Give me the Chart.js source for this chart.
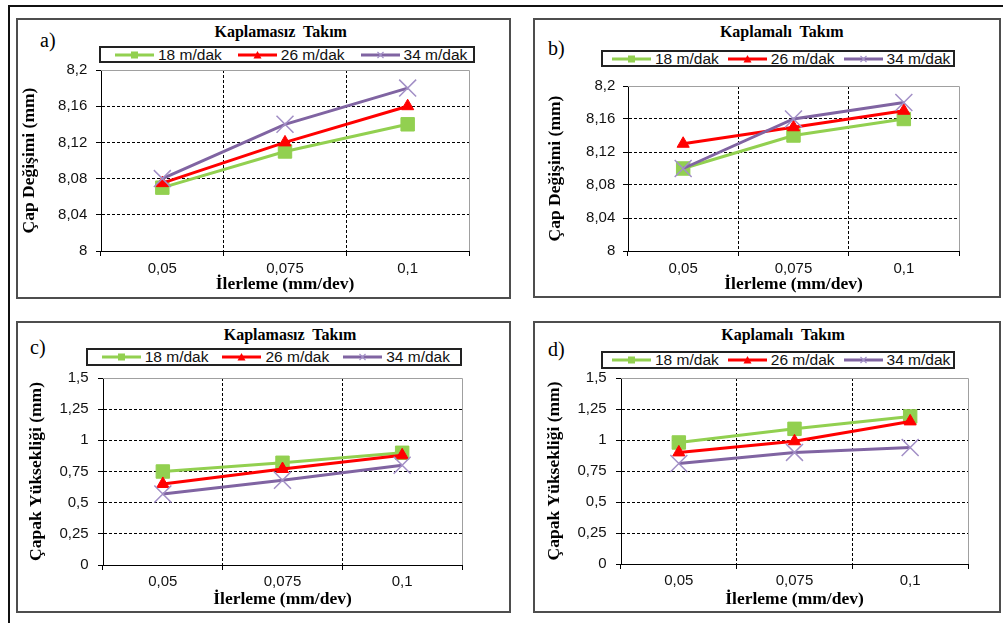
<!DOCTYPE html>
<html>
<head>
<meta charset="utf-8">
<script src="https://cdn.jsdelivr.net/npm/chart.js@4.4.0/dist/chart.umd.min.js"></script>
<style>
  html, body { margin: 0; padding: 0; background: #fff; }
  body { width: 1003px; height: 623px; position: relative; overflow: hidden; font-family: "Liberation Sans", Arial, sans-serif; }
  .frame { position: absolute; left: 8px; top: 5px; width: 1010px; height: 640px; border-top: 2px solid #111; border-left: 2px solid #111; }
  .panel { position: absolute; box-sizing: border-box; border: 2px solid #4e4e4e; }
  .chart { position: absolute; }
  .title { position: absolute; transform: translate(-50%, -50%); font: bold 16px "Liberation Serif", serif; white-space: pre; line-height: 1; color: #000; }
  .tag { position: absolute; transform: translate(0, -50%); font: 20px "Liberation Serif", serif; line-height: 1; color: #000; }
  .legend { position: absolute; box-sizing: border-box; border: 2px solid #222; display: flex; align-items: center; font-size: 15.5px; color: #111; white-space: nowrap; }
  .item { display: flex; align-items: center; }
  .item svg { margin-right: 4px; display: block; }
</style>
</head>
<body>
<div class="frame"></div>
<script>
// feed rate categories and cutting speed series
const feedRates = ['0,05', '0,075', '0,1'];
const speedNames = ['18 m/dak', '26 m/dak', '34 m/dak'];

// a) diameter change, uncoated tool
const diamUncoated18 = [8.07, 8.11, 8.14];
const diamUncoated26 = [8.075, 8.12, 8.16];
const diamUncoated34 = [8.08, 8.14, 8.18];
// b) diameter change, coated tool
const diamCoated18 = [8.10, 8.14, 8.16];
const diamCoated26 = [8.13, 8.15, 8.17];
const diamCoated34 = [8.10, 8.16, 8.18];
// c) burr height, uncoated tool
const burrUncoated18 = [0.75, 0.82, 0.90];
const burrUncoated26 = [0.65, 0.77, 0.88];
const burrUncoated34 = [0.57, 0.68, 0.80];
// d) burr height, coated tool
const burrCoated18 = [0.98, 1.09, 1.19];
const burrCoated26 = [0.90, 0.99, 1.15];
const burrCoated34 = [0.81, 0.90, 0.94];

const diamTicks = [8, 8.04, 8.08, 8.12, 8.16, 8.2];
const diamTickLabels = ['8', '8,04', '8,08', '8,12', '8,16', '8,2'];
const burrTicks = [0, 0.25, 0.5, 0.75, 1, 1.25, 1.5];
const burrTickLabels = ['0', '0,25', '0,5', '0,75', '1', '1,25', '1,5'];

const seriesStyle = [
  { color: '#92D050', point: 'rect', radius: 9.5, pointColor: '#92D050', pointWidth: 1 },
  { color: '#FF0000', point: 'triangle', radius: 7, pointColor: '#FF0000', pointWidth: 1 },
  { color: '#8064A2', point: 'crossRot', radius: 12, pointColor: '#A28FC6', pointWidth: 1.5 }
];

const legendMarks = [
  '<rect x="16" y="2.5" width="7" height="7" fill="#92D050"/>',
  '<polygon points="19.5,2 23.5,9.5 15.5,9.5" fill="#FF0000"/>',
  '<path d="M16.5 3 L22.5 9 M22.5 3 L16.5 9" stroke="#A28FC6" stroke-width="1.2"/>'
];

// layout of the four panels (page pixels)
const panels = [
  { tag: 'a)', title: 'Kaplamasız  Takım', yTitle: 'Çap Değişimi (mm)',
    series: [diamUncoated18, diamUncoated26, diamUncoated34], ticks: diamTicks, tickLabels: diamTickLabels,
    box: [16, 18, 495, 281], plot: [85, 453, 52, 233], yTitlePad: 2.7, yTickPad: 8.7, xTickPad: 4, xTitlePad: 4.5,
    titlePos: [280.7, 32], tagPos: [40, 40], legend: [99, 46, 376, 17, 16, 16] },
  { tag: 'b)', title: 'Kaplamalı  Takım', yTitle: 'Çap Değişimi (mm)',
    series: [diamCoated18, diamCoated26, diamCoated34], ticks: diamTicks, tickLabels: diamTickLabels,
    box: [533, 18, 468, 280], plot: [95, 426, 68, 233], yTitlePad: 12.4, yTickPad: 7.7, xTickPad: 4, xTitlePad: 3.2,
    titlePos: [781.7, 31.5], tagPos: [548, 47.5], legend: [601, 50, 354, 17, 11, 9] },
  { tag: 'c)', title: 'Kaplamasız  Takım', yTitle: 'Çapak Yüksekliği (mm)',
    series: [burrUncoated18, burrUncoated26, burrUncoated34], ticks: burrTicks, tickLabels: burrTickLabels,
    box: [16, 321, 495, 292], plot: [87, 446, 57, 244], yTitlePad: 9.6, yTickPad: 9.4, xTickPad: 3, xTitlePad: 3.2,
    titlePos: [290, 334.5], tagPos: [30, 346.5], legend: [86, 348, 376, 18, 15.7, 14] },
  { tag: 'd)', title: 'Kaplamalı  Takım', yTitle: 'Çapak Yüksekliği (mm)',
    series: [burrCoated18, burrCoated26, burrCoated34], ticks: burrTicks, tickLabels: burrTickLabels,
    box: [533, 321, 468, 292], plot: [88, 435, 57, 243], yTitlePad: 10.9, yTickPad: 9.3, xTickPad: 3, xTitlePad: 3.2,
    titlePos: [783, 334.5], tagPos: [548, 349], legend: [601, 351, 354, 17.6, 11, 9] }
];

// gray top and right edge of the plot area
const plotFrame = {
  id: 'plotFrame',
  beforeDatasetsDraw(chart) {
    const { ctx, chartArea: a } = chart;
    const top = Math.round(a.top) + 0.5, right = Math.round(a.right) + 0.5;
    ctx.save();
    ctx.strokeStyle = '#a0a0a0';
    ctx.lineWidth = 1;
    ctx.beginPath();
    ctx.moveTo(a.left, top);
    ctx.lineTo(right, top);
    ctx.lineTo(right, a.bottom);
    ctx.stroke();
    ctx.restore();
  }
};

function addDiv(cls, css, html) {
  const d = document.createElement('div');
  d.className = cls;
  Object.assign(d.style, css);
  if (html) d.innerHTML = html;
  document.body.appendChild(d);
  return d;
}

panels.forEach(p => {
  const [bx, by, bw, bh] = p.box;
  const [pl, pr, pt, pb] = p.plot;

  addDiv('panel', { left: bx + 'px', top: by + 'px', width: bw + 'px', height: bh + 'px' });
  addDiv('title', { left: p.titlePos[0] + 'px', top: p.titlePos[1] + 'px' }).textContent = p.title;
  addDiv('tag', { left: p.tagPos[0] + 'px', top: p.tagPos[1] + 'px' }).textContent = p.tag;

  const [lx, ly, lw, lh, lpad, lgap] = p.legend;
  const leg = addDiv('legend', { left: lx + 'px', top: ly + 'px', width: lw + 'px', height: lh + 'px',
    paddingLeft: (lpad - 2) + 'px', gap: lgap + 'px' });
  speedNames.forEach((name, i) => {
    const it = document.createElement('div');
    it.className = 'item';
    it.innerHTML = '<svg width="39" height="12"><line x1="0" y1="6" x2="39" y2="6" stroke="' +
      seriesStyle[i].color + '" stroke-width="3"/>' + legendMarks[i] + '</svg><span>' + name + '</span>';
    leg.appendChild(it);
  });

  const wrap = addDiv('chart', { left: bx + 'px', top: by + 'px', width: bw + 'px', height: bh + 'px' });
  const canvas = document.createElement('canvas');
  wrap.appendChild(canvas);

  const lastY = p.ticks.length - 1;
  new Chart(canvas, {
    type: 'line',
    data: {
      labels: feedRates,
      datasets: p.series.map((vals, i) => ({
        label: speedNames[i],
        data: vals,
        borderColor: seriesStyle[i].color,
        backgroundColor: seriesStyle[i].color,
        borderWidth: 3,
        tension: 0,
        pointStyle: seriesStyle[i].point,
        pointRadius: seriesStyle[i].radius,
        pointBackgroundColor: seriesStyle[i].pointColor,
        pointBorderColor: seriesStyle[i].pointColor,
        pointBorderWidth: seriesStyle[i].pointWidth,
        order: 3 - i
      }))
    },
    options: {
      responsive: true,
      maintainAspectRatio: false,
      animation: false,
      layout: { padding: { top: pt, right: bw - pr, bottom: 0, left: 0 } },
      plugins: { legend: { display: false }, tooltip: { enabled: false } },
      scales: {
        x: {
          offset: true,
          grid: {
            offset: true,
            color: c => (c.index === 1 || c.index === 2) ? '#000' : 'rgba(0,0,0,0)',
            lineWidth: 1, tickLength: 5, tickColor: '#000', tickWidth: 1, tickBorderDash: []
          },
          border: { color: '#000', width: 1, dash: [3, 2] },
          ticks: { color: '#111', font: { family: 'Liberation Sans', size: 15 }, padding: p.xTickPad, maxRotation: 0 },
          title: { display: true, text: 'İlerleme (mm/dev)', color: '#000',
            font: { family: 'Liberation Serif', size: 17.5, weight: 'bold' }, padding: { top: 0, bottom: p.xTitlePad } },
          afterFit: s => { s.height = bh - pb; }
        },
        y: {
          min: p.ticks[0],
          max: p.ticks[lastY],
          afterBuildTicks: s => { s.ticks = p.ticks.map(v => ({ value: v })); },
          grid: {
            color: c => (c.index > 0 && c.index < lastY) ? '#000' : 'rgba(0,0,0,0)',
            lineWidth: 1, tickLength: 5, tickColor: '#000', tickWidth: 1, tickBorderDash: []
          },
          border: { color: '#000', width: 1, dash: [3, 2] },
          ticks: { color: '#111', font: { family: 'Liberation Sans', size: 15 }, padding: p.yTickPad,
            callback: (v, i) => p.tickLabels[i] },
          title: { display: true, text: p.yTitle, color: '#000',
            font: { family: 'Liberation Serif', size: 17.5, weight: 'bold' }, padding: { top: p.yTitlePad, bottom: 0 } },
          afterFit: s => { s.width = pl; }
        }
      }
    },
    plugins: [plotFrame]
  });
});
</script>
</body>
</html>
